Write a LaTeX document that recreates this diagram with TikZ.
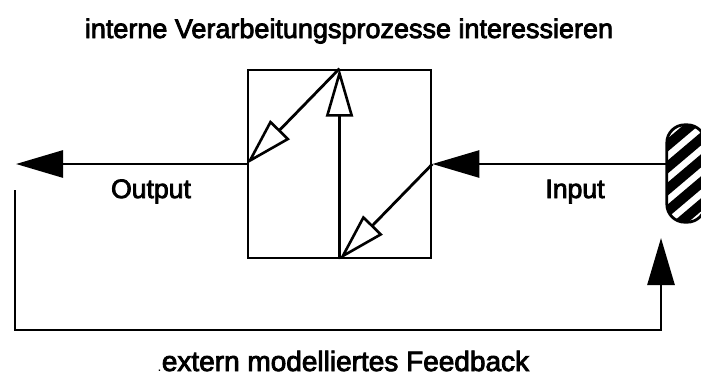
\documentclass[tikz,border=0pt]{standalone}
\usepackage{fontspec}
\setmainfont{Liberation Sans}
\newfontfamily\lblfont[FakeBold=3]{Liberation Sans}
\usetikzlibrary{arrows.meta}
\begin{document}
\begin{tikzpicture}[x=1pt,y=-1pt,
  line/.style={line width=2.8pt},
  solidhead/.style={-{Triangle[length=47pt,width=27pt]}},
  openhead/.style={-{Triangle[open,length=48pt,width=27pt,line width=2.6pt]}},
  lbl/.style={anchor=base,inner sep=0pt,font=\lblfont\fontsize{26.6}{30}\selectfont}]
\clip (0,0) rectangle (701,378);
\fill[white] (0,0) rectangle (701,378);
% box
\node[draw,line,minimum width=183pt,minimum height=188pt,inner sep=0pt] (box) at (339.5,164) {};
% oval
\node[minimum width=38pt,minimum height=97pt,rounded corners=18pt,inner sep=0pt] (oval) at (686,173.5) {};
\begin{scope}
  \clip[rounded corners=18pt] (oval.south west) rectangle (oval.north east);
  \foreach \k in {-4,...,6}{
    \draw[line width=10pt] (660,173.5+22*\k+22) -- (712,173.5+22*\k-22);
  }
\end{scope}
\draw[line,rounded corners=18pt] (oval.south west) rectangle (oval.north east);
% internal arrows
\draw[line,openhead] (box.south) -- (box.north);
\draw[line,openhead] (box.north) -- (box.west);
\draw[line,openhead] (box.east) -- (box.south);
% output
\coordinate (outend) at (16,164);
\draw[line,solidhead] (box.west) -- (outend);
% input
\draw[line,solidhead] (oval.west |- box.east) -- (box.east);
% feedback
\coordinate (fbtop) at (15,190);
\coordinate (fbbottom) at (338,330);
\coordinate (fbend) at (661,238);
\draw[line,solidhead] (fbtop) |- (fbbottom) -| (fbend);
% texts
\node[lbl,font=\lblfont\fontsize{27}{30}\selectfont] (title) at (349,38) {interne Verarbeitungsprozesse interessieren};
\node[lbl] (outlbl) at (151,198) {Output};
\node[lbl] (inlbl) at (575,198) {Input};
\node[lbl,font=\lblfont\fontsize{28}{32}\selectfont] (fblbl) at (345.5,371) {extern modelliertes Feedback};
\node[lbl,anchor=base east,font=\fontsize{14}{16}\selectfont] (dot) at (fblbl.base west) {.\hspace{4pt}};
\end{tikzpicture}
\end{document}
